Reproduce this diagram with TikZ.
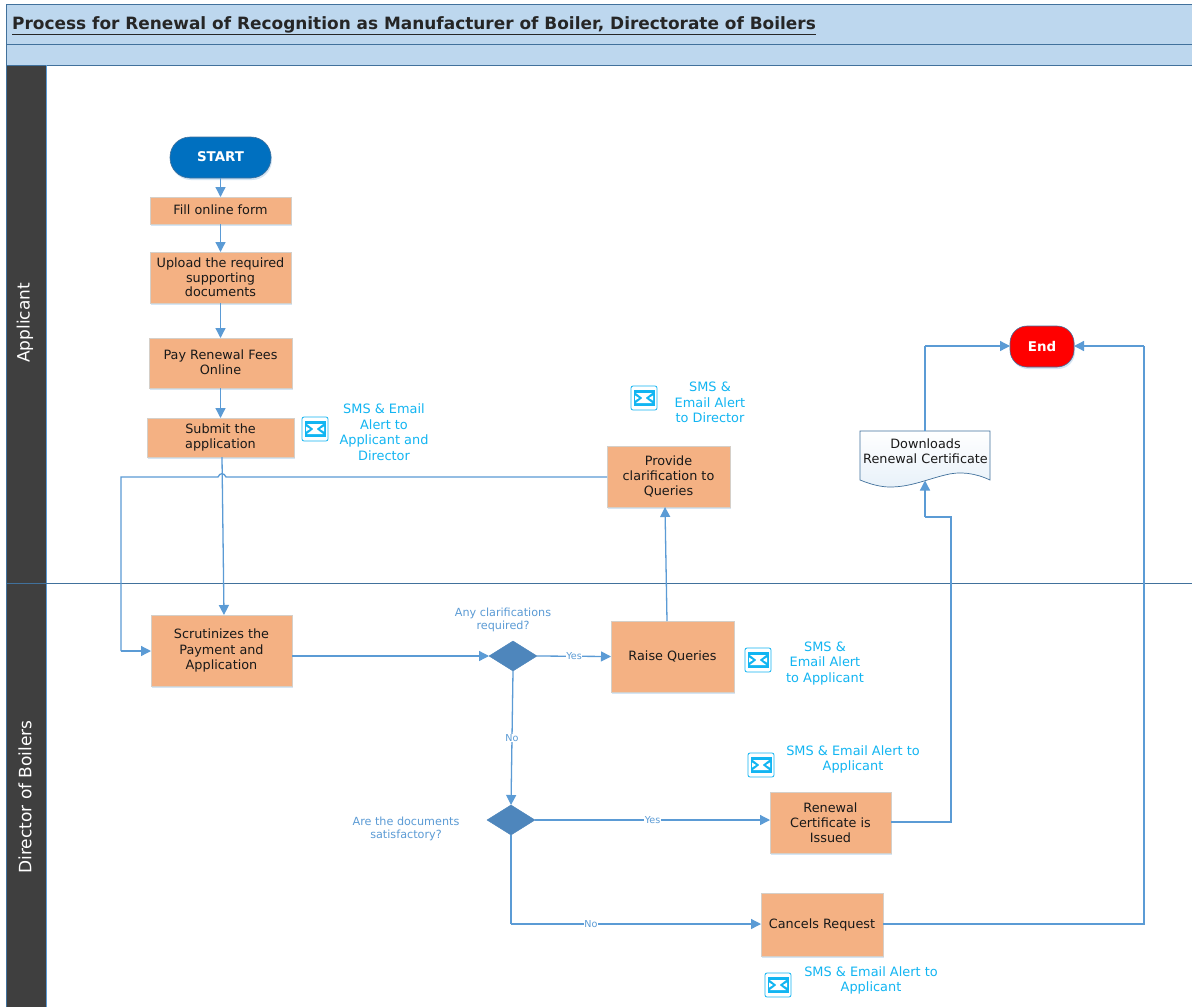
\documentclass[tikz,border=0pt]{standalone}
\usepackage{fontspec}
\setmainfont{DejaVu Sans}
\usetikzlibrary{shapes.geometric,arrows.meta,shadows}
\definecolor{hdr}{HTML}{BDD7EE}
\definecolor{frameblue}{HTML}{41719C}
\definecolor{lane}{HTML}{3F3F3F}
\definecolor{flow}{HTML}{5B9BD5}
\definecolor{boxfill}{HTML}{F4B183}
\definecolor{boxedge}{HTML}{D5CFC8}
\definecolor{alert}{HTML}{12B5F2}
\definecolor{ask}{HTML}{5B9BD5}
\definecolor{dia}{HTML}{4E86BC}
\definecolor{startc}{HTML}{0070C0}
\tikzset{
  x=1pt,y=-1pt,
  softshadow/.style={general shadow={fill=flow,opacity=.25,shadow xshift=1pt,shadow yshift=-2pt}},
  box/.style={rectangle,fill=boxfill,draw=boxedge,line width=.7pt,outer sep=0pt,align=center,inner sep=0pt,font=\fontsize{12.8}{15.2}\selectfont,text=black!90,softshadow},
  term/.style={rectangle,rounded corners=17pt,draw=frameblue,line width=.6pt,outer sep=0pt,text=white,font=\fontsize{13.4}{15}\bfseries\selectfont,softshadow,inner sep=0pt},
  decide/.style={diamond,aspect=1.6,fill=dia,draw=dia,inner sep=0pt,outer sep=0pt,minimum width=48pt,minimum height=30pt},
  flowline/.style={draw=flow,line width=1.3pt,-{Triangle[length=10pt,width=10pt,fill=flow]}},
  plainflow/.style={draw=flow,line width=1.3pt},
  alerttext/.style={text=alert,align=center,font=\fontsize{12.9}{15.6}\selectfont,inner sep=0pt},
  asktext/.style={text=ask,align=center,font=\fontsize{11.2}{13}\selectfont,inner sep=0pt},
  edgelabel/.style={text=ask,fill=white,font=\fontsize{9.6}{10}\selectfont,inner sep=.5pt},
  lanelabel/.style={text=white,rotate=90,font=\fontsize{17}{18}\selectfont,inner sep=0pt},
  mailframe/.style={rectangle,rounded corners=2pt,draw=alert,fill=white,line width=.8pt,outer sep=0pt,minimum width=26pt,minimum height=24pt,inner sep=0pt},
  pics/mailicon/.style={code={
    \fill[alert] (-10.5,-8) rectangle (10.5,8);
    \fill[white] (-8,-5) -- (8,-5) -- (1.5,0) -- (8,5) -- (-8,5) -- (-1.5,0) -- cycle;
    \fill[white] (-9,-2.5) -- (-5,0) -- (-9,2.5) -- cycle;
    \fill[white] (9,-2.5) -- (5,0) -- (9,2.5) -- cycle;
  }}
}
\newcommand{\mailat}[2]{\node[mailframe] (#1) at (#2) {};\pic at (#2) {mailicon};}
\begin{document}
\begin{tikzpicture}
\path[use as bounding box,fill=white] (0,0) rectangle (1192,1007);
\begin{scope}
\clip (0,0) rectangle (1192,1007);
% swimlane frame
\fill[hdr] (6,4) rectangle (1192,65);
\draw[frameblue,line width=.9pt] (1193,4) -- (6,4) -- (6,1008);
\draw[frameblue,line width=.9pt] (6,44) -- (1193,44);
\draw[frameblue,line width=.9pt] (6,65) -- (1193,65);
\fill[lane] (6.5,65.5) rectangle (46,1008);
\draw[flow,line width=.6pt] (46,65) -- (46,1008);
\draw[frameblue,line width=.9pt] (6,583) -- (1193,583);
\end{scope}
\node[anchor=west,inner sep=0pt,text=black!85,font=\fontsize{16.93}{20}\bfseries\selectfont] (title) at (12,26) {\underline{Process for Renewal of Recognition as Manufacturer of Boiler, Directorate of Boilers}};
\node[lanelabel] (laneA) at (25,323) {Applicant};
\node[lanelabel] (laneB) at (25,797) {Director of Boilers};
% shapes
\node[term,fill=startc,minimum width=101pt,minimum height=41pt,rounded corners=20pt] (start) at (220.5,157.5) {\raisebox{1pt}{START}};
\node[box,minimum width=141pt,minimum height=27pt] (fill) at (220.5,210.5) {\raisebox{1pt}{Fill online form}};
\node[box,minimum width=141pt,minimum height=51pt] (upload) at (220.5,277.5) {\raisebox{.6pt}{\shortstack{Upload the required\\[-.6pt]supporting\\[-.6pt]documents}}};
\node[box,minimum width=143pt,minimum height=50pt] (pay) at (220.5,363) {\raisebox{1pt}{\shortstack{Pay Renewal Fees\\[-.6pt]Online}}};
\node[box,minimum width=147pt,minimum height=39pt] (submit) at (220.5,437.5) {Submit the\\application};
\node[box,minimum width=123pt,minimum height=61pt] (provide) at (668.5,476.5) {Provide\\clarification to\\Queries};
\node[term,fill=red,minimum width=64pt,minimum height=41pt] (end) at (1042,346.5) {End};
\node[box,minimum width=141pt,minimum height=71pt] (scrut) at (221.5,650.5) {Scrutinizes the\\Payment and\\Application};
\node[box,minimum width=123pt,minimum height=71pt] (raise) at (672.5,656.5) {Raise Queries};
\node[box,minimum width=121pt,minimum height=61pt] (issued) at (830.5,822.5) {Renewal\\Certificate is\\Issued};
\node[box,minimum width=122pt,minimum height=63pt] (cancel) at (822,924.5) {Cancels Request};
\node[decide] (d1) at (513,656) {};
\node[decide] (d2) at (511,820) {};
% document shape
\path[draw=frameblue,line width=.7pt,top color=white,bottom color=hdr!35!white]
  (860,431) -- (990,431) -- (990,480) .. controls (975,473) and (960,471) .. (945,475)
  .. controls (925,480) and (910,487) .. (890,487) .. controls (880,487) and (870,484) .. (860,480) -- cycle;
\node[inner sep=0pt,align=center,text=black!90,font=\fontsize{12.8}{15.2}\selectfont] (doc) at (925.5,451) {Downloads\\Renewal Certificate};
\coordinate (docT) at (925,431);
\coordinate (docB) at (925,480.5);
% free text
\node[alerttext] (t1) at (384,432) {SMS \& Email\\Alert to\\Applicant and\\Director};
\node[alerttext] (t2) at (710,402.5) {SMS \&\\Email Alert\\to Director};
\node[alerttext] (t3) at (825,663.5) {SMS \&\\Email Alert\\to Applicant};
\node[alerttext] (t4) at (853,759.5) {SMS \& Email Alert to\\Applicant};
\node[alerttext] (t5) at (871,980.5) {SMS \& Email Alert to\\Applicant};
\node[asktext] (q1) at (503,620) {Any clarifications\\required?};
\node[asktext] (q2) at (406,828.5) {Are the documents\\satisfactory?};
% mail icons
\mailat{m1}{315,429}
\mailat{m2}{644,398}
\mailat{m3}{758,660}
\mailat{m4}{761,765}
\mailat{m5}{778,985}
% connectors
\draw[flowline] (start.south) -- (fill.north);
\draw[flowline] (fill.south) -- (upload.north);
\draw[flowline] (upload.south) -- (pay.north);
\draw[flowline] (pay.south) -- (submit.north);
\coordinate (jumpR) at (226,477);
\coordinate (jumpL) at (218,477);
\coordinate (bendA) at (121,477);
\coordinate (bendB) at (121,651);
\draw[plainflow] (provide.west |- jumpR) -- (jumpR) .. controls (224,472.5) and (220,472.5) .. (jumpL) -- (bendA) -- (bendB);
\draw[flowline] (bendB) -- (bendB -| scrut.west);
\draw[flowline] (222,457) -- (224,615);
\draw[flowline] (scrut.east |- d1.west) -- (d1.west);
\draw[flowline] (d1.east) -- (raise.west) node[edgelabel,pos=.5] (yes1) {Yes};
\draw[flowline] (d1.south) -- (d2.north) node[edgelabel,pos=.5] (no1) {No};
\draw[flowline] (667,621) -- (665,507);
\draw[flowline] (d2.east) -- (issued.west |- d2.east) node[edgelabel,pos=.5] (yes2) {Yes};
\coordinate (c1) at (511,924);
\draw[plainflow] (d2.south) -- (c1);
\draw[flowline] (c1) -- (cancel.west |- c1) node[edgelabel,pos=.32] (no2) {No};
\coordinate (r1) at (951,822);
\coordinate (r2) at (951,517);
\coordinate (r3) at (925,517);
\draw[plainflow] (issued.east |- r1) -- (r1) -- (r2) -- (r3);
\draw[flowline] (r3) -- (docB);
\coordinate (e1) at (925,346);
\draw[plainflow] (docT) -- (e1);
\draw[flowline] (e1) -- (end.west |- e1);
\coordinate (f1) at (1144,924);
\coordinate (f2) at (1144,346);
\draw[plainflow] (cancel.east |- f1) -- (f1) -- (f2);
\draw[flowline] (f2) -- (end.east |- f2);
\end{tikzpicture}
\end{document}
